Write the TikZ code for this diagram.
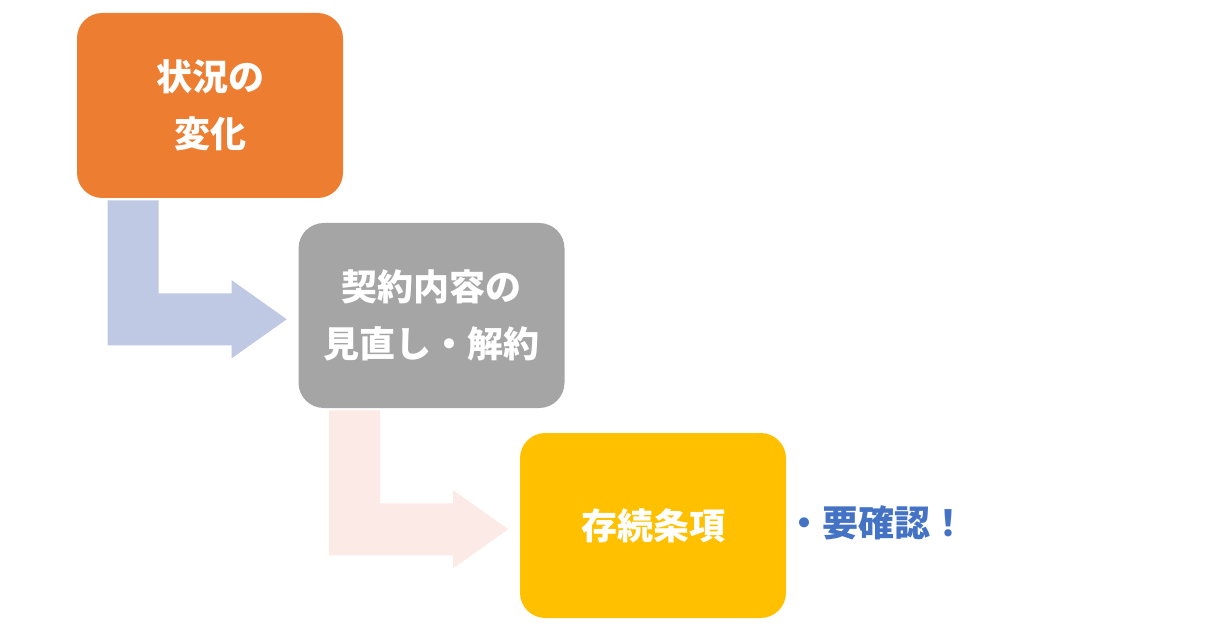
\documentclass[tikz,border=0pt]{standalone}
\usepackage{fontspec}
\newfontfamily\cjk{Noto Sans CJK JP}
\usepackage{tikz}
\usetikzlibrary{calc}
\definecolor{stepOrange}{HTML}{ED7D31}
\definecolor{stepGray}{HTML}{A5A5A5}
\definecolor{stepYellow}{HTML}{FFC000}
\definecolor{noteBlue}{HTML}{4472C4}
\definecolor{arrowBlue}{HTML}{BFC9E4}
\definecolor{arrowPink}{HTML}{FBEAE5}
\tikzset{
	stage box/.style={rectangle,rounded corners=19pt,minimum width=199.5pt,minimum height=138.75pt,
		align=center,text=white,font=\cjk\bfseries\fontsize{27pt}{43pt}\selectfont},
	note/.style={font=\cjk\bfseries\fontsize{27pt}{43pt}\selectfont,text=noteBlue,inner sep=0pt}
}
% bent arrow below a box, starting from its south west corner
\newcommand{\bentarrow}[2]{%
	\fill[#2] ($(#1.south west)+(31,2)$) -- ++(51,0) -- ++(0,93) -- ++(73,0) -- ++(0,-13)
		-- ++(55,39) -- ++(-55,39) -- ++(0,-13) -- ++(-124,0) -- cycle;}

\begin{document}
\begin{tikzpicture}[x=0.75pt,y=-0.75pt]
	\useasboundingbox (0,0) rectangle (1219,627);
	\node [stage box,fill=stepOrange] (change) at (210,105.5) {状況の\\変化};
	\node [stage box,fill=stepGray] (review) at (431.5,315.5) {契約内容の\\見直し・解約};
	\node [stage box,fill=stepYellow] (survive) at (653,525.5) {存続条項};
	\node [note,anchor=west] (check) at (786,523) {・要確認！};
	\bentarrow{change}{arrowBlue}
	\bentarrow{review}{arrowPink}
\end{tikzpicture}
\end{document}
